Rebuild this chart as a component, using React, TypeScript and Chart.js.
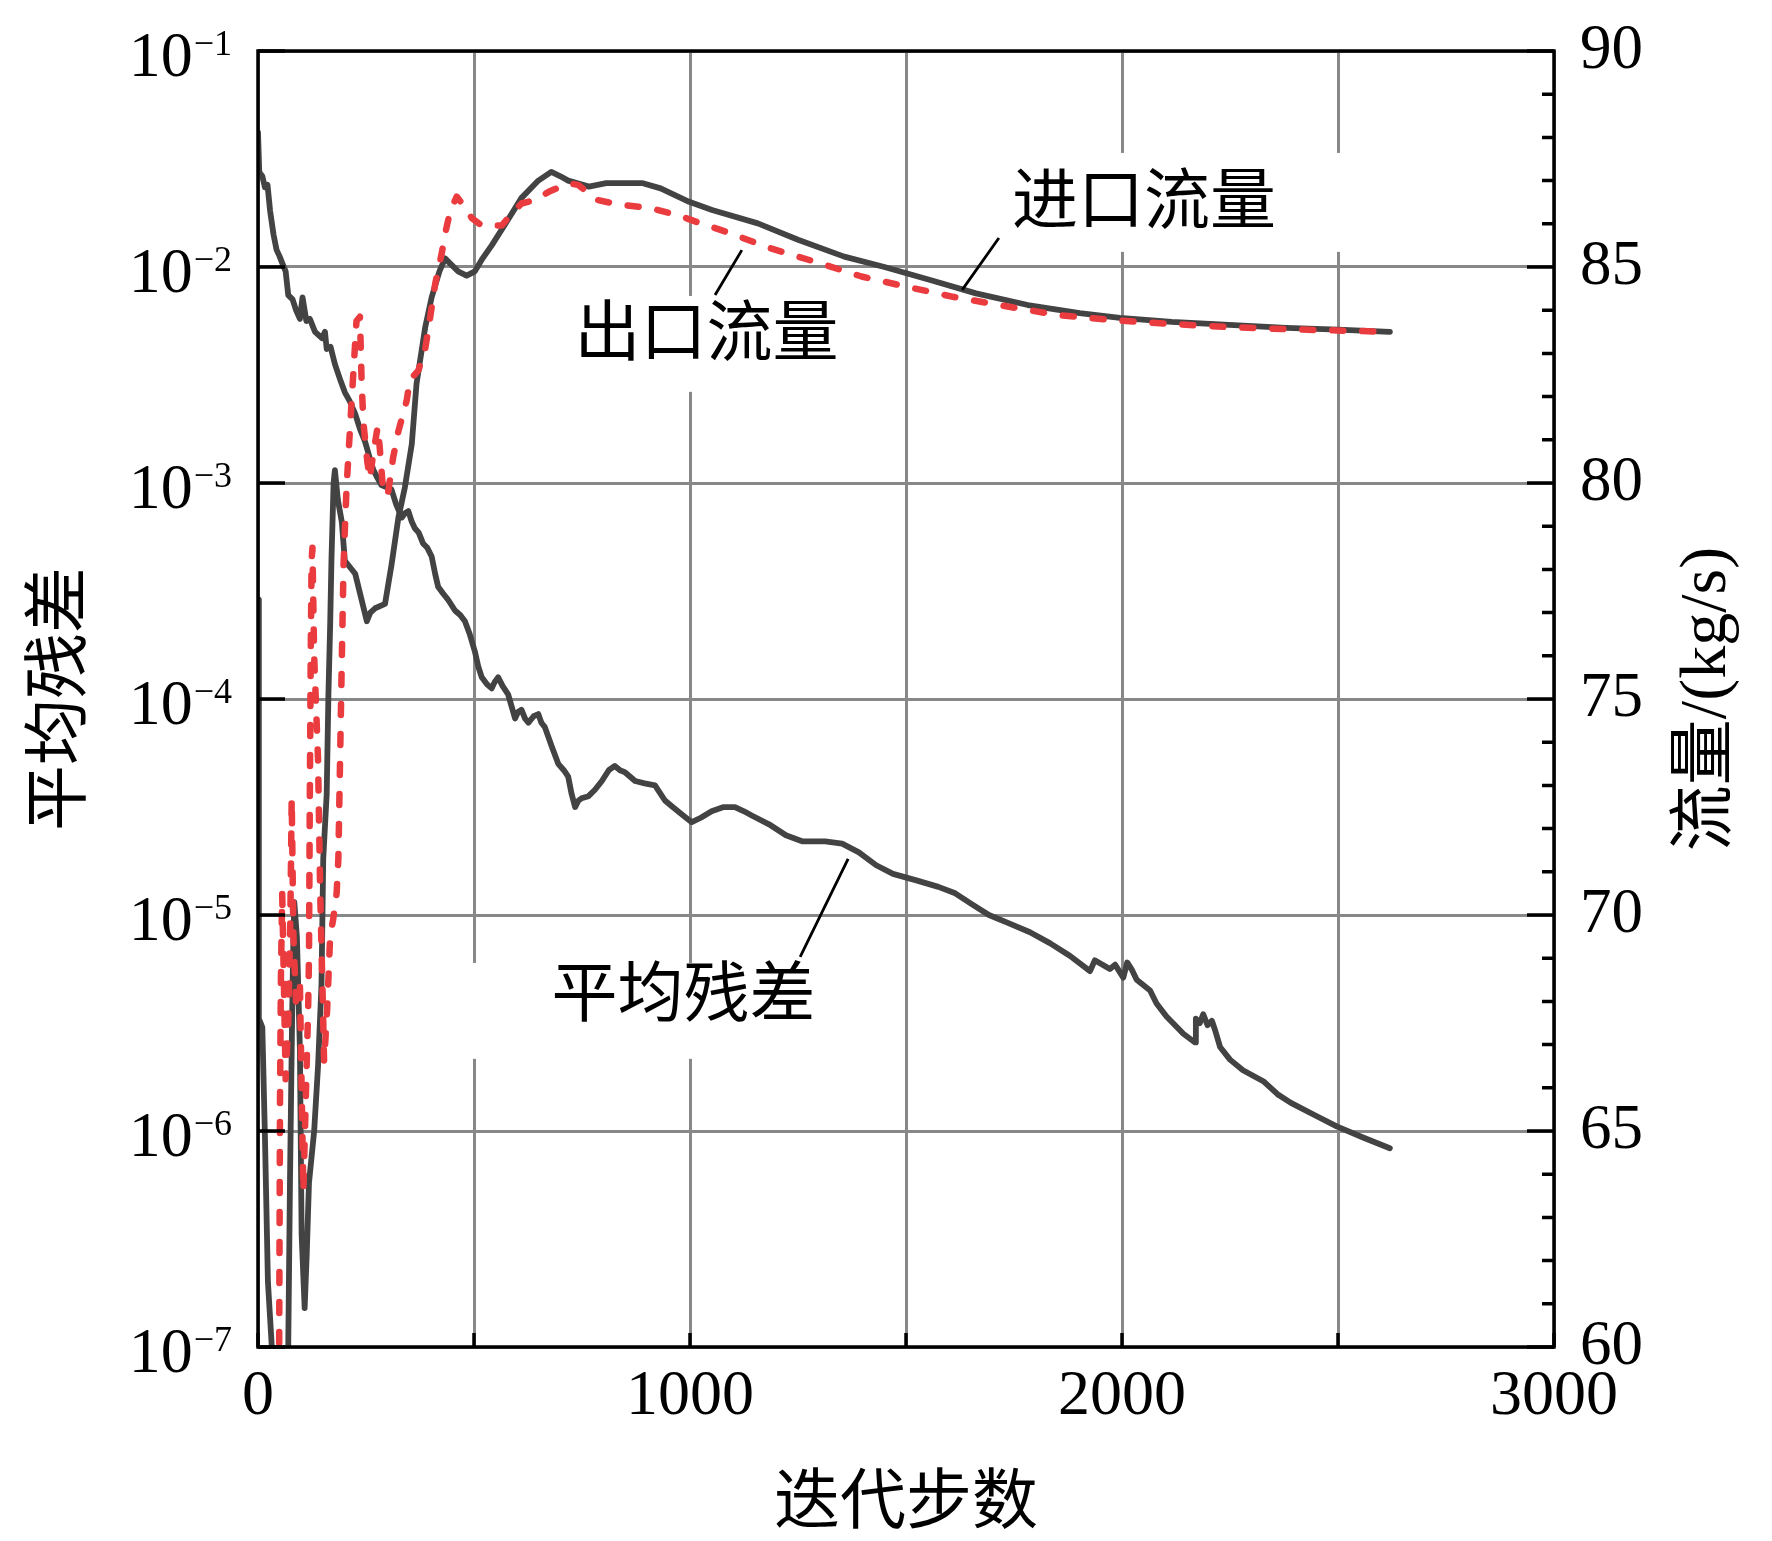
import React, { useEffect, useRef } from 'react'
import { Chart, registerables } from 'chart.js'

Chart.register(...registerables)

// 平均残差 (left, log axis)
const residualIter = [
  0, 3, 10, 16, 22, 28, 36, 43, 50, 58, 64, 70, 80, 88, 97, 103, 112, 120, 132, 148, 155, 159, 168, 178, 190, 201,
  212, 225, 236, 248, 258, 267, 277, 286, 298, 309, 320, 333, 340, 348, 356, 363, 372, 382, 392, 402, 410, 417, 428,
  440, 456, 468, 479, 490, 502, 510, 518, 530, 541, 548, 556, 566, 579, 595, 602, 610, 618, 626, 638, 649, 656, 664,
  680, 695, 708, 718, 726, 734, 742, 749, 765, 780, 796, 812, 826, 838, 850, 873, 895, 919, 942, 960, 985, 1004, 1025,
  1050, 1078, 1104, 1125, 1144, 1183, 1222, 1261, 1313, 1352, 1391, 1431, 1470, 1522, 1575, 1614, 1653, 1692, 1740,
  1787, 1833, 1880, 1926, 1937, 1955, 1972, 1984, 2003, 2012, 2022, 2034, 2065, 2080, 2103, 2142, 2169, 2171, 2180,
  2188, 2198, 2208, 2215, 2227, 2250, 2280, 2327, 2360, 2391, 2451, 2497, 2558, 2620,
]
const residualValue = [
  4.2e-2, 2.75e-2, 2.63e-2, 2.34e-2, 2.4e-2, 1.82e-2, 1.41e-2, 1.2e-2, 1.12e-2, 1.02e-2, 9.55e-3, 7.41e-3, 7.08e-3,
  6.31e-3, 5.75e-3, 7.24e-3, 5.62e-3, 5.75e-3, 5.01e-3, 4.68e-3, 5.01e-3, 4.17e-3, 4.27e-3, 3.55e-3, 3.02e-3, 2.63e-3,
  2.4e-3, 2.09e-3, 1.78e-3, 1.55e-3, 1.32e-3, 1.15e-3, 1.05e-3, 9.77e-4, 9.55e-4, 9.33e-4, 7.94e-4, 6.92e-4, 7.24e-4,
  7.41e-4, 6.61e-4, 6.17e-4, 5.89e-4, 5.25e-4, 5.01e-4, 4.57e-4, 3.8e-4, 3.31e-4, 3.09e-4, 2.88e-4, 2.57e-4, 2.45e-4,
  2.29e-4, 2.0e-4, 1.66e-4, 1.41e-4, 1.26e-4, 1.17e-4, 1.12e-4, 1.2e-4, 1.26e-4, 1.15e-4, 1.05e-4, 8.13e-5, 8.71e-5,
  8.91e-5, 8.13e-5, 7.76e-5, 8.32e-5, 8.51e-5, 7.76e-5, 7.41e-5, 6.03e-5, 5.01e-5, 4.68e-5, 4.37e-5, 3.63e-5, 3.16e-5,
  3.39e-5, 3.47e-5, 3.55e-5, 3.8e-5, 4.17e-5, 4.68e-5, 4.9e-5, 4.68e-5, 4.57e-5, 4.17e-5, 4.07e-5, 3.98e-5, 3.39e-5,
  3.16e-5, 2.88e-5, 2.69e-5, 2.82e-5, 3.02e-5, 3.16e-5, 3.16e-5, 3.02e-5, 2.88e-5, 2.63e-5, 2.34e-5, 2.19e-5, 2.19e-5,
  2.14e-5, 1.95e-5, 1.7e-5, 1.55e-5, 1.45e-5, 1.35e-5, 1.26e-5, 1.12e-5, 1.0e-5, 9.12e-6, 8.32e-6, 7.41e-6, 6.46e-6,
  5.5e-6, 6.17e-6, 5.89e-6, 5.62e-6, 5.89e-6, 5.13e-6, 6.03e-6, 5.62e-6, 5.01e-6, 4.47e-6, 3.89e-6, 3.39e-6, 2.82e-6,
  2.57e-6, 3.31e-6, 3.16e-6, 3.47e-6, 3.09e-6, 3.24e-6, 2.95e-6, 2.45e-6, 2.14e-6, 1.91e-6, 1.7e-6, 1.48e-6, 1.35e-6,
  1.17e-6, 1.05e-6, 9.33e-7, 8.32e-7,
]

// 进口流量 (right axis, kg/s)
const inletIter = [
  0, 2, 10, 16, 23, 32, 40, 62, 70, 74, 78, 81, 84, 90, 97, 101, 108, 113, 118, 130, 139, 147, 151, 159, 163, 167,
  170, 175, 178, 185, 194, 201, 225, 252, 260, 271, 294, 309, 325, 340, 356, 367, 387, 402, 420, 433, 448, 463, 483,
  502, 520, 541, 579, 610, 649, 679, 700, 718, 766, 806, 891, 932, 998, 1051, 1157, 1250, 1357, 1450, 1556, 1662, 1782,
  1902, 1995, 2115, 2248, 2380, 2500, 2620,
]
const inletFlow = [
  77.3, 67.6, 67.4, 64.9, 61.5, 60.0, 57.5, 57.5, 60.0, 63.8, 66.9, 69.0, 70.3, 69.5, 66.9, 62.6, 60.9, 62.2, 63.8,
  65.0, 66.5, 68.4, 71.3, 72.8, 75.1, 76.7, 78.2, 80.0, 80.3, 79.6, 79.1, 78.2, 77.9, 76.8, 77.0, 77.1, 77.2, 78.1,
  79.2, 79.9, 80.9, 82.3, 83.6, 84.3, 84.9, 85.2, 85.05, 84.9, 84.8, 84.9, 85.2, 85.5, 86.1, 86.6, 87.0, 87.2, 87.1,
  87.0, 86.86, 86.94, 86.94, 86.82, 86.51, 86.32, 86.01, 85.63, 85.24, 85.0, 84.7, 84.39, 84.12, 83.93, 83.82, 83.73,
  83.66, 83.59, 83.55, 83.5,
]

// 出口流量 (right axis, kg/s)
const outletIter = [
  0, 47, 49, 51, 53, 56, 60, 64, 70, 75, 78, 82, 88, 97, 101, 105, 110, 116, 118, 120, 122, 124, 126, 130, 139, 144,
  150, 153, 160, 167, 174, 182, 186, 190, 194, 198, 201, 205, 215, 221, 228, 236, 240, 244, 248, 253, 259, 267, 277,
  282, 289, 295, 301, 313, 325, 344, 352, 362, 371, 387, 398, 410, 425, 433, 445, 460, 470, 479, 495, 518, 564, 587,
  610, 641, 673, 719, 741, 786, 838, 905, 972, 1025, 1091, 1184, 1290, 1397, 1503, 1609, 1715, 1849, 1982, 2115, 2248,
  2380, 2500, 2619,
]
const outletFlow = [
  56.0, 57.5, 60.0, 65.8, 68.5, 70.5, 68.4, 66.2, 67.5, 70.0, 72.7, 69.5, 68.0, 68.4, 66.0, 63.6, 65.5, 67.8, 69.0,
  72.8, 75.9, 78.2, 78.5, 76.0, 73.6, 70.5, 68.0, 66.6, 67.8, 69.5, 69.9, 70.5, 71.3, 73.6, 75.9, 78.1, 78.9, 79.9,
  81.6, 82.6, 83.75, 83.85, 82.3, 81.4, 81.0, 80.5, 80.1, 80.7, 81.3, 80.8, 79.9, 79.7, 79.77, 80.6, 81.2, 81.9, 82.4,
  82.5, 82.6, 83.1, 83.8, 84.6, 85.3, 85.76, 86.3, 86.63, 86.5, 86.38, 86.13, 85.96, 85.96, 86.23, 86.47, 86.55, 86.74,
  86.94, 86.9, 86.55, 86.44, 86.37, 86.2, 86.01, 85.79, 85.44, 85.12, 84.78, 84.54, 84.31, 84.12, 83.89, 83.77, 83.68,
  83.61, 83.56, 83.53, 83.5,
]

const residualDecades = [1e-7, 1e-6, 1e-5, 1e-4, 1e-3, 1e-2, 1e-1]
const decadeExponents = ['−7', '−6', '−5', '−4', '−3', '−2', '−1']
const flowTicks = [60, 65, 70, 75, 80, 85, 90]

// labels placed in data space (iteration, kg/s on the right axis)
const notes = [
  { text: '进口流量', x: 2051, y: 86.41, box: [1706, 2551, 85.35, 87.64], lead: [1715, 85.67, 1630, 84.47] },
  { text: '出口流量', x: 1038, y: 83.37, box: [699, 1370, 82.11, 84.33], lead: [1120, 85.39, 1058, 84.35] },
  { text: '平均残差', x: 985, y: 68.07, box: [491, 1324, 66.67, 68.89], lead: [1366, 71.3, 1255, 69.03] },
]

const FONT = "'Liberation Serif', 'Noto Sans CJK SC', serif"
const DARK = '#434343'
const RED = '#ea3b3f'

const noPad = (s: any) => {
  s.paddingTop = 0
  s.paddingBottom = 0
  s.paddingLeft = 0
  s.paddingRight = 0
}

const decor = {
  id: 'decor',
  beforeDatasetsDraw(chart: any) {
    const { ctx, scales } = chart
    const { x, y2 } = scales
    ctx.save()
    ctx.fillStyle = '#fff'
    notes.forEach((n) => {
      const l = x.getPixelForValue(n.box[0])
      const r = x.getPixelForValue(n.box[1])
      const t = y2.getPixelForValue(n.box[3])
      const b = y2.getPixelForValue(n.box[2])
      ctx.fillRect(l, t, r - l, b - t)
    })
    ctx.restore()
  },
  afterDraw(chart: any) {
    const { ctx, chartArea: a, scales } = chart
    const { x, y, y2 } = scales
    ctx.save()
    ctx.strokeStyle = '#000'
    ctx.lineWidth = 3.5
    ctx.lineCap = 'butt'

    // inward tick marks
    ctx.beginPath()
    residualDecades.forEach((v) => {
      const py = y.getPixelForValue(v)
      ctx.moveTo(a.left, py)
      ctx.lineTo(a.left + 27, py)
    })
    for (let v = 60; v <= 90; v++) {
      const py = y2.getPixelForValue(v)
      ctx.moveTo(a.right, py)
      ctx.lineTo(a.right - (v % 5 === 0 ? 27 : 12), py)
    }
    for (let v = 0; v <= 3000; v += 500) {
      const px = x.getPixelForValue(v)
      ctx.moveTo(px, a.bottom)
      ctx.lineTo(px, a.bottom - 14)
    }
    ctx.stroke()
    ctx.strokeRect(a.left, a.top, a.right - a.left, a.bottom - a.top)

    // left tick labels 10^n
    ctx.fillStyle = '#000'
    ctx.textBaseline = 'alphabetic'
    ctx.textAlign = 'right'
    const labelRight = a.left - 26
    residualDecades.forEach((v, i) => {
      const py = y.getPixelForValue(v)
      ctx.font = `36px ${FONT}`
      const sw = ctx.measureText(decadeExponents[i]).width
      ctx.fillText(decadeExponents[i], labelRight, py + 4)
      ctx.font = `64px ${FONT}`
      ctx.fillText('10', labelRight - sw - 1, py + 25)
    })

    // right axis title (reads bottom to top)
    ctx.save()
    ctx.translate(1708, (a.top + a.bottom) / 2)
    ctx.rotate(-Math.PI / 2)
    ctx.textAlign = 'center'
    ctx.textBaseline = 'middle'
    ctx.font = `66px ${FONT}`
    ctx.fillText('流量/(kg/s)', 0, 0)
    ctx.restore()

    // annotations with leader lines
    ctx.lineWidth = 2.8
    ctx.beginPath()
    notes.forEach((n) => {
      ctx.moveTo(x.getPixelForValue(n.lead[0]), y2.getPixelForValue(n.lead[1]))
      ctx.lineTo(x.getPixelForValue(n.lead[2]), y2.getPixelForValue(n.lead[3]))
    })
    ctx.stroke()
    ctx.textAlign = 'center'
    ctx.textBaseline = 'middle'
    ctx.font = `66px ${FONT}`
    notes.forEach((n) => {
      ctx.fillText(n.text, x.getPixelForValue(n.x), y2.getPixelForValue(n.y))
    })
    ctx.restore()
  },
}

const App = () => {
  const canvasRef = useRef<HTMLCanvasElement>(null)

  useEffect(() => {
    Chart.defaults.font.family = FONT
    Chart.defaults.color = '#000'

    const line = (
      label: string,
      xs: number[],
      ys: number[],
      color: string,
      axis: string,
      width: number,
      dash: number[] = [],
    ) => ({
      label,
      data: xs.map((v, i) => ({ x: v, y: ys[i] })),
      yAxisID: axis,
      borderColor: color,
      borderWidth: width,
      borderDash: dash,
      borderCapStyle: 'round',
      borderJoinStyle: 'round',
      pointRadius: 0,
      tension: 0,
      fill: false,
    })

    const chart = new Chart(canvasRef.current as HTMLCanvasElement, {
      type: 'line',
      data: {
        // first dataset is painted last, so the red dashes sit on top
        datasets: [
          line('出口流量', outletIter, outletFlow, RED, 'y2', 6.5, [11, 19]),
          line('进口流量', inletIter, inletFlow, DARK, 'y2', 5.8),
          line('平均残差', residualIter, residualValue, DARK, 'y', 5.8),
        ] as any,
      },
      options: {
        animation: false,
        responsive: false,
        devicePixelRatio: 1,
        layout: { padding: { top: 51, left: 0, right: 0, bottom: 0 } },
        plugins: { legend: { display: false }, tooltip: { enabled: false } },
        scales: {
          x: {
            type: 'linear',
            min: 0,
            max: 3000,
            ticks: {
              stepSize: 500,
              autoSkip: false,
              maxRotation: 0,
              padding: 12,
              font: { size: 64 },
              callback: (v: any) => (v % 1000 === 0 ? String(v) : ''),
            },
            grid: { color: '#888', lineWidth: 3, drawTicks: false },
            border: { display: false },
            title: { display: true, text: '迭代步数', font: { size: 66 }, padding: { top: 0, bottom: -4 } },
            afterFit: (s: any) => {
              s.height = 194
              noPad(s)
            },
          },
          y: {
            type: 'logarithmic',
            position: 'left',
            min: 1e-7,
            max: 1e-1,
            afterBuildTicks: (s: any) => {
              s.ticks = residualDecades.map((v) => ({ value: v }))
            },
            ticks: { display: false },
            grid: { color: '#888', lineWidth: 3, drawTicks: false },
            border: { display: false },
            title: { display: true, text: '平均残差', font: { size: 66 }, padding: { top: 23, bottom: 0 } },
            afterFit: (s: any) => {
              s.width = 258
              noPad(s)
            },
          },
          y2: {
            type: 'linear',
            position: 'right',
            min: 60,
            max: 90,
            afterBuildTicks: (s: any) => {
              s.ticks = flowTicks.map((v) => ({ value: v }))
            },
            ticks: { padding: 26, font: { size: 63 } },
            grid: { drawOnChartArea: false, drawTicks: false },
            border: { display: false },
            afterFit: (s: any) => {
              s.width = 218
              noPad(s)
            },
          },
        },
      } as any,
      plugins: [decor],
    })

    return () => {
      chart.destroy()
    }
  }, [])

  return (
    <div style={{ position: 'fixed', left: 0, top: 0, width: 1772, height: 1541, background: '#fff' }}>
      <canvas ref={canvasRef} width={1772} height={1541}></canvas>
    </div>
  )
}

export default App
